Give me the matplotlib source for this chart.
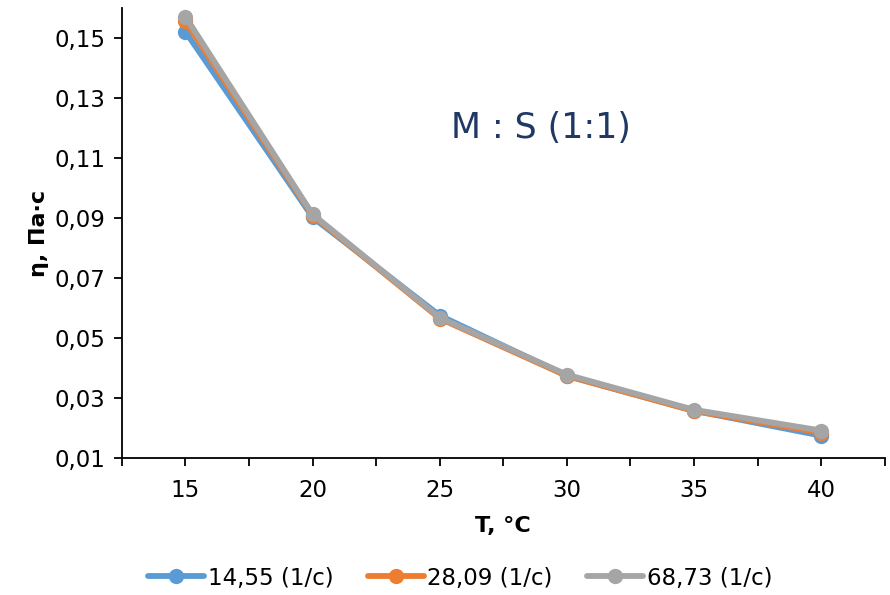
import matplotlib
matplotlib.use("Agg")
import matplotlib.pyplot as plt
from matplotlib.ticker import FixedLocator, FuncFormatter

plt.rcParams['font.family'] = ['DejaVu Sans']

# Temperature points and viscosity for each shear rate
temperature = [15, 20, 25, 30, 35, 40]
series_names = ["14,55 (1/c)", "28,09 (1/c)", "68,73 (1/c)"]
visc_14_55 = [0.1520, 0.0902, 0.0575, 0.0374, 0.0258, 0.0175]
visc_28_09 = [0.1555, 0.0908, 0.0565, 0.0374, 0.0257, 0.0185]
visc_68_73 = [0.1570, 0.0912, 0.0568, 0.0378, 0.0261, 0.0192]
colors = ["#5B9BD5", "#ED7D31", "#A5A5A5"]

y_ticks = [0.01, 0.03, 0.05, 0.07, 0.09, 0.11, 0.13, 0.15]

fig = plt.figure(figsize=(8.9, 5.95), dpi=100)
ax = fig.add_axes([0.137, 0.230, 0.857, 0.757])

for name, vals, c in zip(series_names, [visc_14_55, visc_28_09, visc_68_73], colors):
    ax.plot(temperature, vals, color=c, lw=4.2, marker='o', ms=11,
            markeredgewidth=0, label=name, solid_capstyle='round')

ax.set_xlim(12.5, 42.5)
ax.set_ylim(0.01, 0.16)

# ticks every 2.5 degrees, labels only at the measured temperatures
x_tick_pos = [12.5 + 2.5 * i for i in range(13)]
ax.xaxis.set_major_locator(FixedLocator(x_tick_pos))
ax.xaxis.set_major_formatter(FuncFormatter(
    lambda v, p: f"{int(round(v))}" if abs(v - round(v)) < 1e-6 and int(round(v)) in temperature else ""))
ax.yaxis.set_major_locator(FixedLocator(y_ticks))
ax.yaxis.set_major_formatter(FuncFormatter(lambda v, p: f"{v:.2f}".replace('.', ',')))

ax.tick_params(axis='both', direction='out', length=6, width=1.3, labelsize=16.5, colors='black')
ax.tick_params(axis='x', pad=9)
ax.tick_params(axis='y', pad=6)

for side in ['top', 'right']:
    ax.spines[side].set_visible(False)
for side in ['left', 'bottom']:
    ax.spines[side].set_linewidth(1.3)
    ax.spines[side].set_color('black')

ax.set_xlabel("T, °C", fontsize=16, fontweight='bold', labelpad=10)
ax.set_ylabel("η, Па·с", fontsize=16, fontweight='bold', labelpad=4)

fig.text(541 / 890, 1 - 128 / 595, "M : S (1:1)", fontsize=25, color='#1F3864',
         ha='center', va='center')

fig.legend(loc='center', bbox_to_anchor=(460 / 890, 1 - 578 / 595), ncol=3, frameon=False,
           fontsize=16.5, handlelength=2.45, columnspacing=1.5, handletextpad=0.15)

fig.savefig("out.png", dpi=100)
